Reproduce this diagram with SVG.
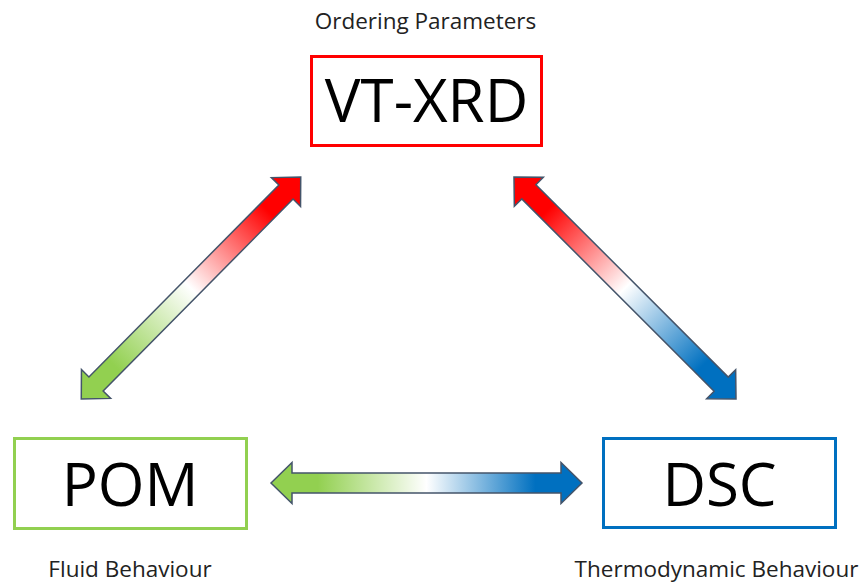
<svg xmlns="http://www.w3.org/2000/svg" width="864" height="584" viewBox="0 0 864 584">
<style>
.box{fill:#ffffff;stroke-width:3}
.big{font-family:"Open Sans","Liberation Sans",sans-serif;font-size:60px;fill:#000;text-anchor:middle}
.lbl{font-family:"Open Sans","Liberation Sans",sans-serif;font-size:22.5px;fill:#222;text-anchor:middle}
.arr{stroke:#44546a;stroke-width:1.5;stroke-linejoin:miter}
</style>
<defs>
<linearGradient id="gGB" x1="0" y1="0" x2="1" y2="0">
<stop offset="0" stop-color="#92d050"/><stop offset="0.15" stop-color="#92d050"/><stop offset="0.5" stop-color="#ffffff"/><stop offset="0.85" stop-color="#0070c0"/><stop offset="1" stop-color="#0070c0"/>
</linearGradient>
<linearGradient id="gGR" x1="0" y1="0" x2="1" y2="0">
<stop offset="0" stop-color="#92d050"/><stop offset="0.15" stop-color="#92d050"/><stop offset="0.5" stop-color="#ffffff"/><stop offset="0.85" stop-color="#ff0000"/><stop offset="1" stop-color="#ff0000"/>
</linearGradient>
<linearGradient id="gRB" x1="0" y1="0" x2="1" y2="0">
<stop offset="0" stop-color="#ff0000"/><stop offset="0.15" stop-color="#ff0000"/><stop offset="0.5" stop-color="#ffffff"/><stop offset="0.85" stop-color="#0070c0"/><stop offset="1" stop-color="#0070c0"/>
</linearGradient>
</defs>
<g id="connectors">
<path class="arr" fill="url(#gGB)" transform="translate(426.5,483)" d="M-155.5,0 L-134.5,-20.5 L-134.5,-10 L134.5,-10 L134.5,-20.5 L155.5,0 L134.5,20.5 L134.5,10 L-134.5,10 L-134.5,20.5 Z"/>
<path class="arr" fill="url(#gGR)" transform="translate(191,288) rotate(-45.3)" d="M-156,0 L-135,-20.5 L-135,-10 L135,-10 L135,-20.5 L156,0 L135,20.5 L135,10 L-135,10 L-135,20.5 Z"/>
<path class="arr" fill="url(#gRB)" transform="translate(625,288) rotate(45)" d="M-157,0 L-136,-20.5 L-136,-10 L136,-10 L136,-20.5 L157,0 L136,20.5 L136,10 L-136,10 L-136,20.5 Z"/>
</g>
<g id="vtxrd">
<text class="lbl" x="425.5" y="29">Ordering Parameters</text>
<rect class="box" stroke="#ff0000" x="311.5" y="56.5" width="230" height="89"/>
<text class="big" x="426.5" y="122">VT-XRD</text>
</g>
<g id="pom">
<rect class="box" stroke="#92d050" x="14.5" y="438.5" width="232" height="90"/>
<text class="big" x="130" y="506">POM</text>
<text class="lbl" x="130" y="577">Fluid Behaviour</text>
</g>
<g id="dsc">
<rect class="box" stroke="#0070c0" x="603.5" y="438.5" width="232" height="89"/>
<text class="big" x="719.5" y="506">DSC</text>
<text class="lbl" x="716.5" y="577">Thermodynamic Behaviour</text>
</g>
</svg>
